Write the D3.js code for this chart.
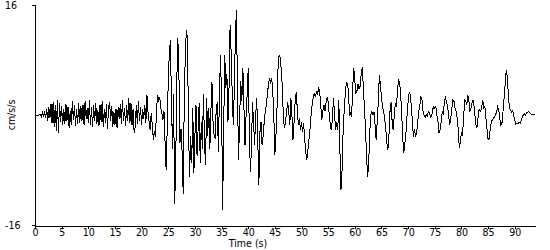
<!DOCTYPE html>
<html><head><meta charset="utf-8">
<script src="https://cdn.jsdelivr.net/npm/d3@7"></script>
<style>
html,body{margin:0;padding:0;background:#fff;}
svg{display:block;}
text{font-family:"Liberation Sans Narrow","DejaVu Sans Condensed","Liberation Sans",sans-serif;font-size:11px;fill:#000;}
</style></head>
<body>
<svg id="chart" width="550" height="250"></svg>
<script>
// sampling interval (s) of the acceleration record
const dt = 0.2;
// acceleration values (cm/s/s), one per dt
const accel = [
0,0,0,0,0,0.1,-0.2,0.3,-0.3,0.5,
-0.4,0.9,-0.8,1.2,-0.5,1.6,-1.2,1.9,-1.7,1.4,
-2.3,2.2,-2.6,1.8,-1.0,1.3,-1.5,0.9,-1.3,1.6,
-0.8,1.2,-1.9,0.6,-1.5,2.0,-0.7,1.4,-1.6,0.8,
-1.3,1.7,-1.1,1.3,-0.9,1.5,-1.4,2.1,-0.6,1.0,
-1.2,2.2,-1.5,1.1,-1.8,1.4,-0.9,1.8,-1.3,0.7,
-1.6,1.5,-1.0,2.0,-1.7,0.9,-1.2,1.6,-2.0,1.2,
1.9,-0.8,1.3,-1.7,0.5,-1.4,0.9,-1.9,1.2,-0.6,
1.6,-1.3,2.2,-0.9,1.0,-1.6,1.4,-0.8,2.5,-1.2,
1.8,-1.5,0.9,-2.6,-1.8,1.4,-1.3,2.0,-0.9,1.1,
-1.4,0.8,-0.6,1.5,-1.1,2.9,0.5,-1.0,-2.2,0.3,
-1.5,-3.6,-2.4,-3.2,0.8,2.9,2.2,2.6,1.0,0.2,
-0.7,0.5,-4.0,-8.0,-2.0,5.0,9.0,10.9,2.0,-5.0,
3.0,-13.0,-7.0,5.0,11.2,6.0,-4.0,-2.0,-5.5,-11.5,
2.0,9.0,12.4,11.0,-2.0,-9.0,-3.0,-7.0,1.0,-8.5,
-3.0,1.5,-6.0,-2.0,1.8,-7.0,-1.0,-5.0,3.0,-4.0,
-7.3,2.5,-3.0,1.0,-5.0,0.5,4.8,-1.0,-3.0,-3.3,
1.0,1.9,-5.4,3.0,8.7,2.0,-13.8,-2.0,8.7,4.0,
6.0,-1.0,4.0,13.1,9.0,3.0,-1.5,4.0,12.0,15.3,
2.0,-6.5,0.0,5.0,2.0,6.8,1.0,-4.4,0.0,3.0,
6.8,-2.0,-8.3,-5.0,1.9,-1.0,-4.4,0.0,2.5,-4.0,
-10.2,-2.5,-1.0,-4.4,-3.0,-1.0,0.5,1.5,3.0,4.5,
5.4,4.8,5.4,3.5,0.0,-5.8,-3.0,1.0,7.0,8.7,
8.4,6.5,4.0,-0.5,-1.9,-1.0,0.5,1.9,0.5,-1.5,
2.5,0.0,-3.6,-1.0,2.0,3.3,1.0,-1.5,-0.5,-2.2,
-1.0,-2.5,-1.2,-3.6,-5.5,-6.5,-5.0,-3.6,-2.0,0.0,
1.5,2.5,3.2,2.6,3.3,3.0,3.9,3.5,1.5,-0.7,
0.5,1.5,0.6,1.8,2.5,2.0,0.0,-1.5,-2.2,-0.5,
2.5,0.0,-2.2,-1.0,-2.2,2.2,-5.0,-10.9,-8.0,-2.5,
0.5,3.0,4.7,4.5,3.5,0.0,0.3,-0.3,4.0,6.8,
5.0,3.2,3.5,4.5,3.8,4.2,6.0,7.0,4.0,1.0,
-2.0,-6.0,-9.0,-7.0,-2.5,0.0,0.5,0.0,0.4,-1.5,
-3.6,-1.0,2.0,5.8,4.5,2.5,1.2,0.5,-0.5,-2.0,
-4.0,-5.1,-3.0,0.5,1.9,-1.0,-2.2,0.0,1.7,1.2,
3.5,5.1,4.8,3.0,0.0,-3.5,-5.5,-4.0,-2.5,0.0,
2.0,3.3,3.0,1.2,-1.0,-3.2,-2.0,-3.2,-2.5,-1.0,
0.5,1.5,2.6,2.2,0.5,0.0,-0.3,0.0,-0.2,0.5,
0.3,-0.3,-0.2,0.8,1.2,1.0,1.2,0.0,-1.0,-2.6,
-2.2,-1.0,0.5,0.0,2.0,2.5,2.0,1.2,0.0,-1.5,
-0.5,1.0,2.2,2.0,1.0,0.5,-0.5,-2.0,-4.8,-4.0,
-2.5,-3.0,-0.5,2.2,2.0,1.5,2.9,2.0,0.5,1.0,
1.8,2.2,1.0,-0.5,-1.9,-1.5,0.5,0.8,0.5,1.2,
2.2,1.0,1.2,-0.5,-2.0,-3.6,-3.4,-2.0,-1.0,-0.7,
-0.5,-0.3,0.0,0.5,1.2,0.8,-0.5,-1.5,-1.2,0.5,
2.5,4.5,6.5,5.5,3.0,1.0,0.7,0.4,0.6,0.0,
-0.8,-1.3,-1.2,-1.3,-1.0,-1.2,-0.8,-0.3,0.0,0.2,
0.0,0.3,0.4,0.5,0.4,0.2,0.1,0.1,0.1,0.1
];
// axis settings
const xTicks = [0,5,10,15,20,25,30,35,40,45,50,55,60,65,70,75,80,85,90];
const yTickLabels = ["16","-16"];
const yMax = 16, yMin = -16;
const xLabel = "Time (s)";
const yLabel = "cm/s/s";

const svg = d3.select("#chart");
const x = d3.scaleLinear().domain([0, (accel.length - 1) * dt]).range([35, 535]);
const y = d3.scaleLinear().domain([yMin, yMax]).range([225, 5]);

const pts = accel.map((v, i) => [i * dt, v]);
const line = d3.line().x(d => x(d[0])).y(d => y(d[1]));

svg.append("path").datum(pts)
  .attr("d", line)
  .attr("fill", "none")
  .attr("stroke", "#000")
  .attr("stroke-width", 1)
  .attr("shape-rendering", "crispEdges");

// x axis
const xAxis = svg.append("g").attr("transform", "translate(0,225.5)")
  .call(d3.axisBottom(x).tickValues(xTicks).tickSize(3).tickSizeOuter(0).tickPadding(0).tickFormat(d3.format("d")));
xAxis.attr("font-family", null).attr("font-size", null);
xAxis.select(".domain").attr("stroke", "#000").attr("shape-rendering", "crispEdges");
xAxis.selectAll(".tick line").attr("stroke", "#000").attr("shape-rendering", "crispEdges");
xAxis.selectAll(".tick text").attr("fill", "#000").style("font-size", "10.5px");

// y axis line
svg.append("line").attr("x1", 35.5).attr("x2", 35.5).attr("y1", y(yMax)).attr("y2", y(yMin) + 0.5)
  .attr("stroke", "#000").attr("shape-rendering", "crispEdges");
// y ticks and labels
[yMax, yMin].forEach((v, i) => {
  svg.append("line").attr("x1", 32).attr("x2", 35.5).attr("y1", y(v) + 0.5).attr("y2", y(v) + 0.5)
    .attr("stroke", "#000").attr("shape-rendering", "crispEdges");
  svg.append("text").attr("x", 5).attr("y", y(v)).attr("dy", "0.35em").style("font-size", "10.5px").text(yTickLabels[i]);
});

svg.append("text").attr("x", 248).attr("y", 247).attr("text-anchor", "middle").style("font-size", "10.5px").text(xLabel);
svg.append("text").attr("transform", "translate(15,115) rotate(-90)").attr("text-anchor", "middle").style("font-size", "10.5px").text(yLabel);
</script>
</body></html>
